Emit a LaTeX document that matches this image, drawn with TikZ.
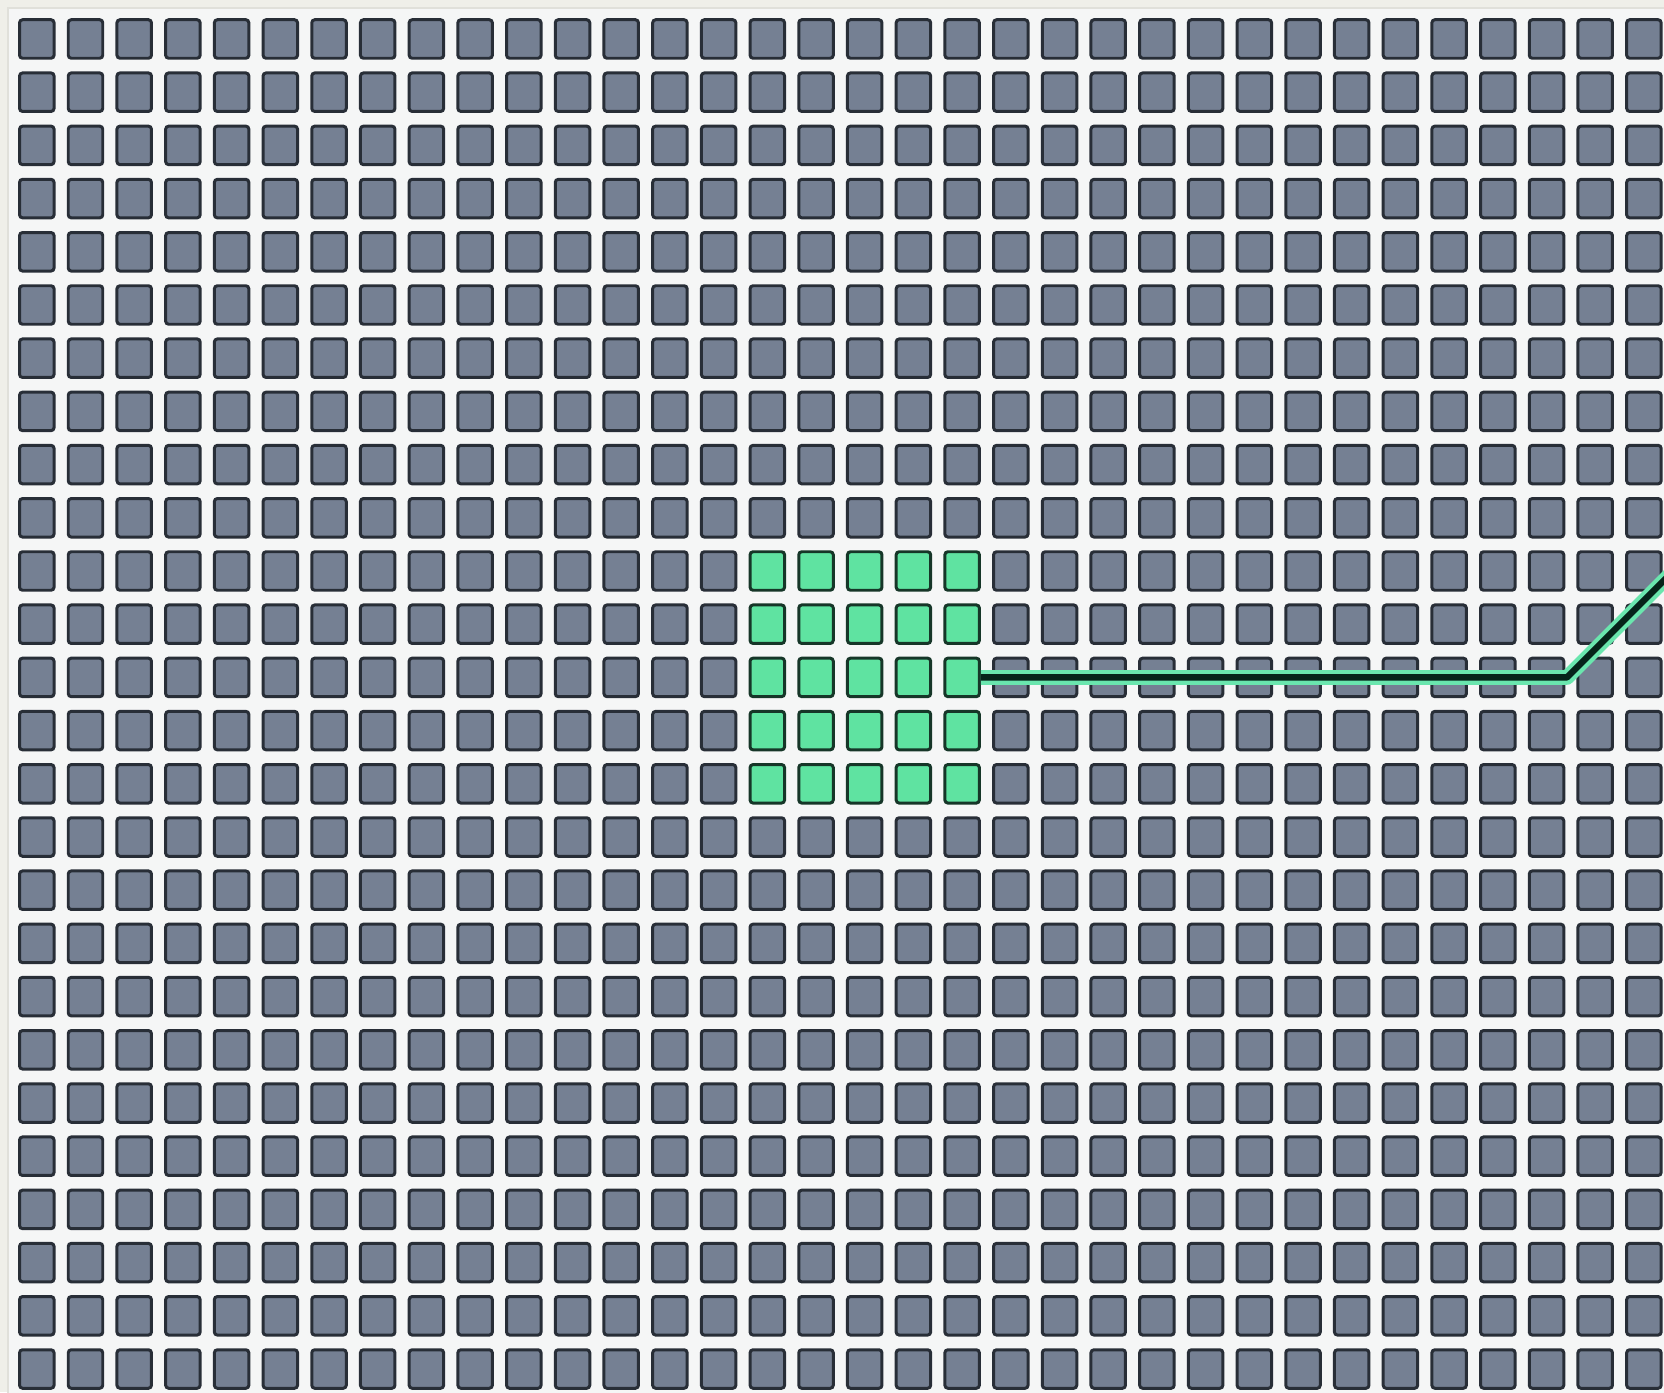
\documentclass[tikz,border=0pt]{standalone}
\usetikzlibrary{calc}
\definecolor{PadGray}{HTML}{758093}
\definecolor{PadEdge}{HTML}{282E37}
\definecolor{PadGreen}{HTML}{5FE3A1}
\definecolor{PadGreenEdge}{HTML}{163628}
\definecolor{TraceCore}{HTML}{06241A}
\definecolor{TraceGlow}{HTML}{6AE6AE}
\definecolor{PaperBg}{HTML}{F5F6F6}
\definecolor{PaperOut}{HTML}{EFEFE9}
\definecolor{PaperRim}{HTML}{E0E0DA}
\tikzset{
  pad/.style     = {rectangle, rounded corners=0.3mm, draw=PadEdge,
                    fill=PadGray, line width=0.85pt, inner sep=0pt,
                    minimum width=3.45mm, minimum height=3.85mm},
  pad_lit/.style = {pad, draw=PadGreenEdge, fill=PadGreen},
  trace/.style   = {draw=TraceCore, line width=1.8pt, line join=round,
                    preaction={draw=TraceGlow, line width=4.2pt,
                               line join=round}},
  paper/.style   = {fill=PaperBg, draw=PaperRim, line width=0.5pt},
}
\def\PicW{16.64}
\def\PicH{13.92}
\def\Dx{0.487}
\def\Dy{0.532}
\def\Xo{0.368}
\def\Yo{0.390}

\begin{document}
\begin{tikzpicture}[x=1cm, y=1cm]

% =========================================================================
% Sheet
% =========================================================================
\useasboundingbox (0, 0) rectangle (\PicW, -\PicH);
\clip (0, 0) rectangle (\PicW, -\PicH);
\fill[PaperOut] (0, 0) rectangle (\PicW, -\PicH);
\draw[paper] (0.08, -0.08) rectangle (\PicW + 1, -\PicH - 1);

% =========================================================================
% Pad array  (34 x 26, lit block: columns 15--19, rows 10--14)
% =========================================================================
\foreach \c in {0,...,33} {
  \foreach \r in {0,...,25} {
    \def\sty{pad}
    \ifnum\c>14 \ifnum\c<20 \ifnum\r>9 \ifnum\r<15
      \def\sty{pad_lit}
    \fi\fi\fi\fi
    \node[\sty] (cell-\c-\r) at (\Xo + \c*\Dx, -\Yo - \r*\Dy) {};
  }
}

% =========================================================================
% Trace leaving the lit block
% =========================================================================
\coordinate (bend) at (15.67, -6.774);
\coordinate (tail) at (16.90, -5.544);
\draw[trace] (cell-19-12.east) -- (bend) -- (tail);

\end{tikzpicture}
\end{document}
